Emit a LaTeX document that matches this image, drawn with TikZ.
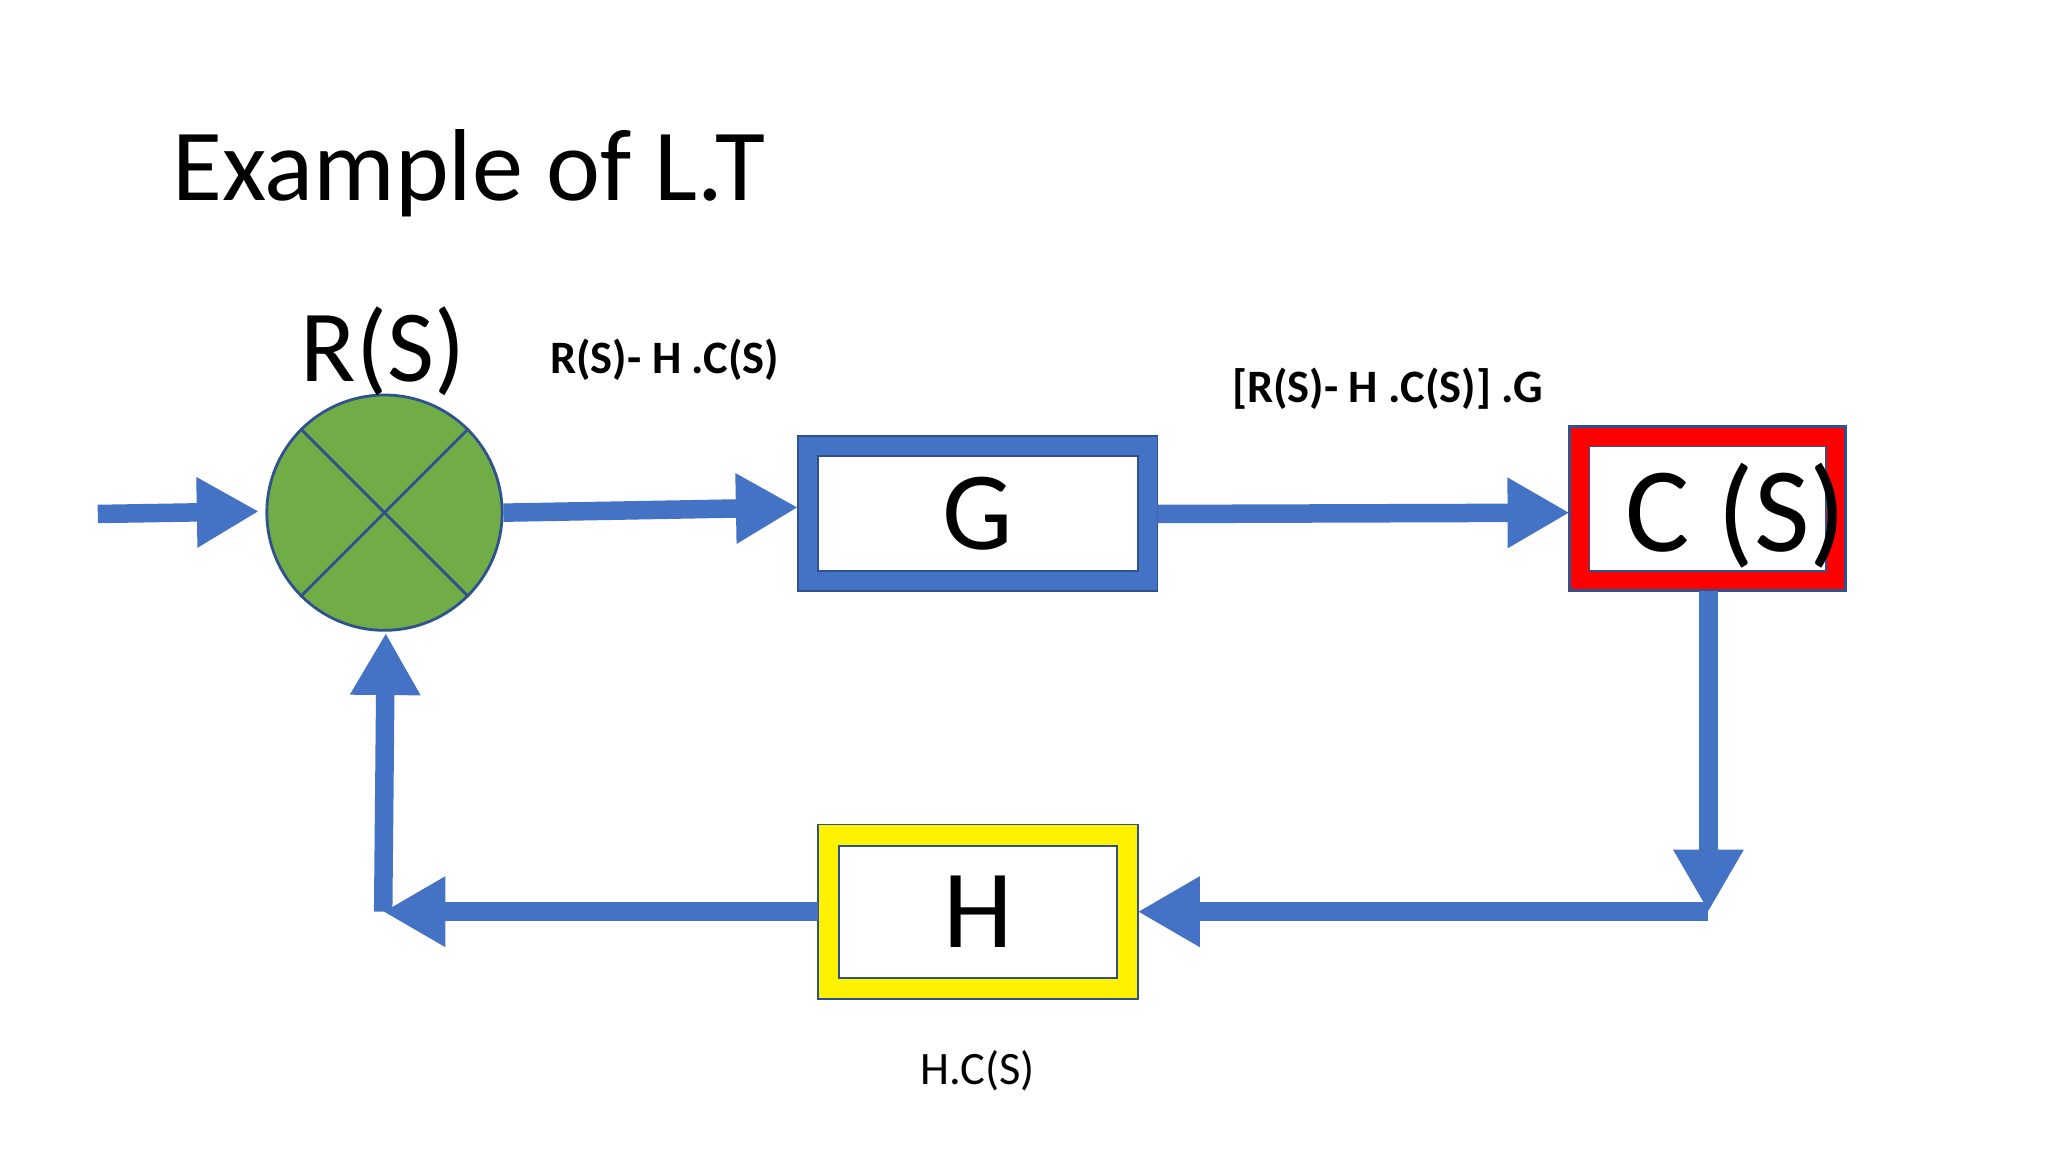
\documentclass[tikz,border=0pt]{standalone}
\usepackage{fontspec}
\setmainfont{Carlito}
\usetikzlibrary{arrows.meta}
\definecolor{blu}{HTML}{4472C4}
\definecolor{grn}{HTML}{70AD47}
\definecolor{edge}{HTML}{2F528F}
\begin{document}
\begin{tikzpicture}[x=0.01cm,y=-0.01cm,
  flow/.style={draw=blu,line width=0.14cm,-{Triangle[length=0.47cm,width=0.5cm]}},
  lbl/.style={font=\bfseries\fontsize{10}{12}\selectfont}]
\useasboundingbox (0,0) rectangle (1550,872);
\fill[white] (0,0) rectangle (1550,872);
\node[anchor=base west,font=\fontsize{22}{26}\selectfont] (title) at (118,152) {Example of L.T};
% summing junction
\node[circle,fill=grn,draw=edge,line width=0.6pt,minimum size=1.78cm,inner sep=0] (sum) at (291,388) {};
\draw[edge,line width=0.6pt] (sum.45)--(sum.225) (sum.135)--(sum.315);
\node[font=\fontsize{22}{26}\selectfont] (rs) at (290,266) {R(S)};
% G box
\fill[blu] (604,330) rectangle (876,447);
\node[fill=white,draw=edge,line width=0.4pt,minimum width=2.42cm,minimum height=0.87cm,inner sep=0,font=\fontsize{24}{28}\selectfont] (G) at (740,388.5) {G};
\draw[edge,line width=0.4pt] (604,330) rectangle (876,447);
\coordinate (Gl) at (604,384); \coordinate (Gr) at (876,389);
% C box
\fill[red] (1188,323) rectangle (1397,447);
\node[fill=white,draw=edge,line width=0.4pt,minimum width=1.79cm,minimum height=0.94cm,inner sep=0] (C) at (1292.5,385) {};
\node[anchor=west,font=\fontsize{26}{30}\selectfont] (Ct) at (1218,390) {C (S)};
\draw[edge,line width=0.6pt] (1188,323) rectangle (1397,447);
\coordinate (Cl) at (1188,388); \coordinate (Cb) at (1293,447);
% H box
\fill[yellow] (619,624) rectangle (861,756);
\node[fill=white,draw=edge,line width=0.4pt,minimum width=2.10cm,minimum height=1.0cm,inner sep=0,font=\fontsize{24}{28}\selectfont] (H) at (740,690) {H};
\draw[edge,line width=0.4pt] (619,624) rectangle (861,756);
\coordinate (Hl) at (619,690); \coordinate (Hr) at (861,690);
% labels
\node[lbl] (l1) at (503,272) {R(S)- H .C(S)};
\node[lbl] (l2) at (1050,294) {[R(S)- H .C(S)] .G};
\node[font=\fontsize{10}{12}\selectfont] (l3) at (740,810) {H.C(S)};
% arrows
\coordinate (in) at (74,389);
\coordinate (sumin) at (196,387);
\coordinate (corner) at (1293,690);
\coordinate (lc) at (290,690);
\coordinate (sumb) at (292,479);
\draw[flow] (in) -- (sumin);
\draw[flow] (sum.east) -- (Gl);
\draw[flow] (Gr) -- (Cl);
\draw[flow] (Cb) -- (corner);
\draw[flow] (corner) -- (Hr);
\draw[flow] (Hl) -- (lc);
\draw[flow] (lc) -- (sumb);
\end{tikzpicture}
\end{document}
